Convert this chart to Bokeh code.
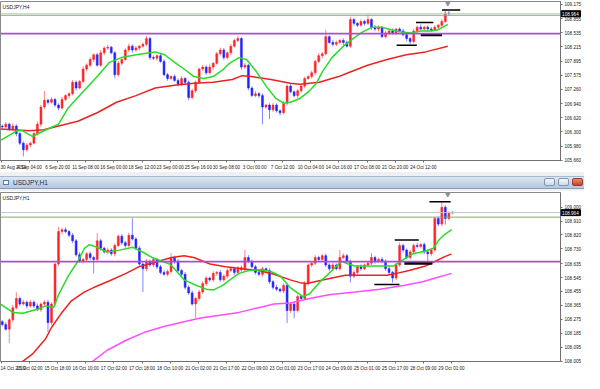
from bokeh.plotting import figure
from bokeh.models import FixedTicker, NumeralTickFormatter, Span, Label, Range1d, Div
from bokeh.core.properties import value
from bokeh.layouts import column
from bokeh.embed import file_html
from bokeh.resources import INLINE

# ---------------- H4 panel data ----------------
h4_title = "USDJPY,H4"
h4_x_labels = ["30 Aug 2019", "4 Sep 04:00", "6 Sep 20:00", "11 Sep 08:00", "16 Sep 00:00",
               "18 Sep 12:00", "23 Sep 00:00", "25 Sep 16:00", "30 Sep 08:00", "3 Oct 00:00",
               "7 Oct 12:00", "10 Oct 04:00", "14 Oct 16:00", "17 Oct 08:00", "21 Oct 20:00",
               "24 Oct 12:00"]
h4_price_ticks = [109.175, 108.855, 108.535, 108.215, 107.895, 107.575, 107.260, 106.940,
                  106.620, 106.300, 105.980, 105.660]
h4_first_open = 106.43
h4_close = [
    106.411, 106.475, 106.368, 106.432, 106.261, 106.046, 105.897, 106.004, 106.046, 106.261, 106.475, 106.861, 107.011, 106.968, 107.032, 106.904,
    106.839, 107.032, 107.118, 107.161, 107.418, 107.289, 107.439, 107.718, 107.804, 107.932, 108.039, 107.804, 108.082, 108.189, 108.210, 108.082,
    107.590, 107.847, 107.932, 108.147, 108.232, 108.147, 108.189, 108.232, 108.275, 108.404, 107.975, 107.960, 108.018, 107.889, 107.590, 107.504,
    107.547, 107.461, 107.375, 107.504, 107.418, 107.075, 107.225, 107.418, 107.718, 107.761, 107.632, 107.761, 107.847, 108.061, 108.147, 107.975,
    108.082, 108.232, 108.361, 108.404, 107.761, 107.804, 107.289, 107.118, 107.161, 107.118, 106.861, 106.904, 106.797, 106.904, 106.775, 106.732,
    106.947, 107.332, 107.204, 107.118, 107.225, 107.332, 107.504, 107.547, 107.632, 107.889, 108.018, 108.061, 108.447, 108.318, 108.275, 108.318,
    108.361, 108.318, 108.232, 108.832, 108.747, 108.704, 108.790, 108.747, 108.832, 108.661, 108.618, 108.661, 108.447, 108.532, 108.575, 108.532,
    108.618, 108.575, 108.490, 108.404, 108.339, 108.575, 108.661, 108.618, 108.661, 108.618, 108.597, 108.661, 108.704, 108.790, 108.980, 108.964]
h4_wick_up = [
    .04, .05, .03, .06, .04, .03, .04, .05, .03, .04, .06, .05, .21, .04, .05, .03,
    .04, .06, .03, .04, .05, .04, .03, .06, .04, .05, .03, .04, .06, .04, .05, .03,
    .04, .05, .03, .04, .06, .04, .05, .03, .04, .06, .04, .05, .03, .04, .05, .04,
    .03, .05, .04, .06, .03, .04, .05, .04, .03, .05, .04, .06, .03, .04, .05, .04,
    .03, .05, .04, .06, .04, .05, .03, .04, .06, .04, .05, .03, .04, .05, .04, .03,
    .05, .04, .06, .03, .04, .05, .04, .03, .05, .04, .06, .04, .15, .03, .05, .04,
    .03, .05, .04, .06, .04, .03, .05, .04, .11, .03, .05, .04, .03, .05, .04, .06,
    .03, .04, .05, .04, .03, .05, .04, .06, .03, .04, .05, .04, .03, .05, .06, .04]
h4_wick_dn = [
    .04, .03, .05, .04, .06, .04, .15, .04, .05, .03, .04, .06, .04, .05, .03, .04,
    .05, .04, .03, .06, .04, .05, .03, .04, .05, .04, .06, .03, .04, .05, .04, .03,
    .08, .04, .05, .03, .04, .06, .04, .05, .03, .04, .05, .04, .06, .03, .04, .05,
    .04, .03, .05, .04, .06, .06, .04, .05, .03, .04, .05, .04, .06, .03, .04, .05,
    .04, .05, .03, .04, .06, .04, .05, .03, .04, .05, .39, .04, .21, .05, .04, .06,
    .04, .05, .03, .04, .06, .04, .05, .03, .04, .05, .04, .06, .04, .03, .05, .04,
    .04, .06, .03, .04, .05, .04, .03, .05, .04, .06, .04, .05, .03, .04, .05, .04,
    .05, .03, .04, .06, .06, .04, .05, .03, .04, .05, .04, .03, .05, .04, .03, .04]
h4_ma_fast_bar = [0, 9.3, 12.6, 18.1, 24.7, 33, 38.5, 45, 55, 62, 68.7, 77, 88, 93.4, 99, 104.4, 110,
                  115.4, 121, 126.4, 130.2, 135.7, 140, 145.6, 151.1, 156.6, 161, 164.8, 170.3, 175.8,
                  179.7, 183, 188.5, 195, 200.5, 206, 211.5, 217, 222.5, 228, 233.5, 239, 244.5, 248.4,
                  251.6, 254.4]
h4_ma_fast = [106.111, 106.325, 106.325, 106.197, 106.325, 106.475, 106.839, 107.118, 107.547, 107.868,
              107.975, 108.039, 108.104, 108.039, 107.868, 107.718, 107.547, 107.504, 107.547, 107.697,
              107.847, 107.975, 107.932, 107.654, 107.332, 107.054, 106.947, 106.968, 107.054, 107.225,
              107.397, 107.654, 107.975, 108.232, 108.404, 108.554, 108.661, 108.661, 108.597, 108.554,
              108.532, 108.575, 108.575, 108.597, 108.661, 108.725]
h4_ma_slow_bar = [0, 16.5, 24.7, 33, 44, 55, 66, 77, 88, 99, 110, 121, 131.9, 137.4, 142.9, 153.8, 164.8,
                  170.3, 181.3, 192.3, 197.8, 208.8, 219.8, 230.8, 241.8, 254.4]
h4_ma_slow = [106.368, 106.325, 106.347, 106.432, 106.539, 106.732, 106.968, 107.118, 107.289, 107.354,
              107.397, 107.418, 107.482, 107.568, 107.547, 107.482, 107.397, 107.375, 107.418, 107.547,
              107.632, 107.804, 107.932, 108.039, 108.104, 108.232]
h4_last = 108.964
h4_green_level = 108.93
h4_purple_level = 108.515
h4_mark_x0 = [225.3, 236.3, 239.0, 251.1]
h4_mark_x1 = [236.8, 246.2, 251.1, 261.5]
h4_mark_y = [108.254, 108.768, 108.490, 109.047]
h4_mark_w = [1.5, 1.5, 3.0, 1.5]
h4_arrow = (254.4, 109.19)

# ---------------- H1 panel data ----------------
h1_title = "USDJPY,H1"
h1_x_labels = ["14 Oct 2019", "15 Oct 02:00", "15 Oct 18:00", "16 Oct 10:00", "17 Oct 02:00",
               "17 Oct 18:00", "18 Oct 10:00", "21 Oct 02:00", "21 Oct 17:00", "22 Oct 09:00",
               "23 Oct 01:00", "23 Oct 17:00", "24 Oct 09:00", "25 Oct 01:00", "25 Oct 17:00",
               "28 Oct 09:00", "29 Oct 01:00"]
h1_price_ticks = [109.000, 108.910, 108.820, 108.730, 108.635, 108.545, 108.455, 108.365,
                  108.275, 108.185, 108.095, 108.005]
h1_first_open = 108.26
h1_close = [
    108.242, 108.212, 108.272, 108.350, 108.410, 108.374, 108.386, 108.362, 108.386, 108.362, 108.338, 108.374, 108.386, 108.254, 108.374, 108.632,
    108.842, 108.854, 108.842, 108.818, 108.782, 108.692, 108.650, 108.662, 108.698, 108.674, 108.662, 108.782, 108.734, 108.710, 108.722, 108.698,
    108.752, 108.812, 108.770, 108.752, 108.818, 108.794, 108.734, 108.632, 108.602, 108.650, 108.626, 108.662, 108.614, 108.578, 108.566, 108.584,
    108.674, 108.650, 108.590, 108.566, 108.482, 108.446, 108.374, 108.410, 108.452, 108.506, 108.542, 108.530, 108.572, 108.578, 108.530, 108.554,
    108.590, 108.602, 108.578, 108.608, 108.596, 108.674, 108.650, 108.614, 108.578, 108.566, 108.602, 108.590, 108.518, 108.482, 108.470, 108.458,
    108.494, 108.332, 108.374, 108.332, 108.422, 108.410, 108.506, 108.626, 108.638, 108.674, 108.662, 108.686, 108.626, 108.602, 108.626, 108.602,
    108.674, 108.686, 108.650, 108.554, 108.578, 108.614, 108.602, 108.626, 108.638, 108.674, 108.650, 108.662, 108.650, 108.602, 108.578, 108.542,
    108.626, 108.752, 108.722, 108.674, 108.710, 108.752, 108.746, 108.758, 108.710, 108.698, 108.722, 108.926, 108.890, 108.998, 108.926, 108.962,
    108.964]
h1_wick_up = [
    .012, .015, .010, .018, .040, .012, .015, .010, .014, .012, .016, .010, .013, .015, .012, .010,
    .030, .012, .015, .010, .014, .012, .016, .010, .013, .015, .012, .050, .014, .010, .016, .012,
    .015, .010, .013, .012, .016, .110, .012, .015, .010, .014, .012, .016, .010, .013, .015, .012,
    .030, .012, .015, .010, .014, .012, .016, .010, .013, .015, .012, .010, .014, .012, .016, .010,
    .013, .015, .012, .010, .014, .050, .016, .010, .013, .015, .012, .010, .014, .012, .016, .010,
    .013, .015, .012, .010, .014, .012, .016, .010, .013, .015, .012, .010, .014, .012, .016, .010,
    .050, .015, .012, .010, .014, .012, .016, .010, .013, .030, .012, .010, .014, .012, .016, .010,
    .013, .020, .012, .010, .014, .012, .016, .010, .013, .015, .012, .010, .014, .040, .016, .010,
    .012]
h1_wick_dn = [
    .012, .010, .090, .015, .012, .014, .010, .016, .012, .013, .010, .015, .012, .060, .014, .010,
    .012, .016, .010, .013, .015, .012, .010, .014, .012, .016, .090, .012, .015, .010, .014, .012,
    .016, .010, .013, .015, .012, .010, .014, .012, .150, .016, .010, .013, .015, .012, .010, .014,
    .012, .016, .010, .013, .015, .012, .010, .090, .014, .012, .016, .010, .013, .015, .012, .010,
    .014, .012, .016, .010, .013, .015, .012, .010, .014, .012, .016, .010, .013, .015, .012, .010,
    .014, .080, .016, .050, .013, .015, .012, .010, .014, .012, .016, .010, .013, .015, .012, .010,
    .014, .012, .016, .040, .013, .015, .012, .010, .014, .012, .016, .010, .013, .015, .012, .030,
    .014, .012, .016, .010, .013, .015, .012, .010, .014, .050, .016, .010, .013, .015, .040, .012,
    .010]
h1_ma_fast_bar = [0, 7.1, 12.6, 22, 25.8, 30.2, 33, 38.5, 44, 47.8, 50.5, 55, 60.4, 67.6, 75.3, 80.8,
                  86.3, 91.8, 96.2, 98.9, 104.4, 111.5, 117, 120.9, 126.4, 131.9, 135.7, 141.2, 148.4,
                  153.8, 159.3, 164.8, 172, 175.8, 181.3, 188.5, 194, 197.8, 201.6, 210.4, 223.6, 227,
                  230.8, 234.6, 241.8, 246.2, 248.9, 252.7, 256.6]
h1_ma_fast = [108.374, 108.320, 108.314, 108.344, 108.362, 108.350, 108.434, 108.554, 108.650, 108.734,
              108.758, 108.740, 108.710, 108.722, 108.740, 108.710, 108.674, 108.650, 108.632, 108.602,
              108.530, 108.494, 108.470, 108.464, 108.494, 108.542, 108.572, 108.590, 108.596, 108.584,
              108.554, 108.480, 108.422, 108.440, 108.512, 108.590, 108.650, 108.632, 108.620, 108.620,
              108.620, 108.644, 108.674, 108.698, 108.716, 108.734, 108.782, 108.824, 108.854]
h1_ma_slow_bar = [11, 18.1, 25.8, 29.1, 34.6, 40.1, 47.8, 53.3, 62.1, 71.4, 78.6, 87.9, 97.3, 104.4,
                  109.9, 119.2, 128, 137.4, 146.7, 155.5, 164.8, 170.3, 174.2, 181.3, 188.5, 196.2,
                  207.1, 219.8, 225.3, 232.4, 241.8, 247.3, 252.7, 256.6]
h1_ma_slow = [107.990, 108.050, 108.152, 108.224, 108.314, 108.392, 108.452, 108.482, 108.524, 108.572,
              108.614, 108.644, 108.674, 108.686, 108.674, 108.632, 108.614, 108.602, 108.590, 108.566,
              108.530, 108.512, 108.506, 108.524, 108.542, 108.560, 108.560, 108.560, 108.572, 108.590,
              108.620, 108.650, 108.680, 108.698]
h1_ma_long_bar = [48.4, 52.2, 60.4, 71.4, 82.4, 93.4, 104.4, 113.7, 124.7, 135.7, 146.7, 155.5, 164.8,
                  175.8, 186.8, 201.6, 215.9, 229.1, 240.1, 247.3, 256.6]
h1_ma_long = [107.972, 108.002, 108.074, 108.140, 108.194, 108.230, 108.260, 108.284, 108.302, 108.320,
              108.350, 108.374, 108.380, 108.410, 108.434, 108.452, 108.470, 108.494, 108.518, 108.542,
              108.572]
h1_last = 108.964
h1_green_level = 108.935
h1_purple_level = 108.648
h1_mark_x0 = [212.6, 224.2, 229.7, 244.0]
h1_mark_x1 = [226.9, 237.9, 245.6, 256.0]
h1_mark_y = [108.500, 108.788, 108.638, 109.034]
h1_mark_w = [1.5, 1.5, 3.0, 1.5]
h1_arrow = (254.4, 109.080)

# ---------------- styling ----------------
W = 584
FONT = "Liberation Sans"
FS = "4.6px"
UP_COLOR = "#ff1f1f"
DN_COLOR = "#1f1fff"
X_RANGE = (0, 318.5)


def panel(title, x_labels, ticks, y_range, first_open, closes, wu, wd, mas, last,
          green_level, purple_level, mx0, mx1, my, mw, arrow, height):
    n = len(closes)
    xs = [2 * k + 1 for k in range(n)]
    opens = [first_open] + closes[:-1]
    highs = [max(o, c) + u for o, c, u in zip(opens, closes, wu)]
    lows = [min(o, c) - d for o, c, d in zip(opens, closes, wd)]
    cols = [UP_COLOR if c >= o else DN_COLOR for o, c in zip(opens, closes)]

    p = figure(width=W, height=height, x_range=Range1d(*X_RANGE), y_range=Range1d(*y_range),
               y_axis_location="right", output_backend="svg", toolbar_location=None, tools="",
               min_border_left=0, min_border_right=0, min_border_top=1, min_border_bottom=0)
    p.grid.visible = False
    p.outline_line_color = "#8a8a8a"
    p.background_fill_color = "white"
    p.border_fill_color = "white"

    # horizontal levels
    p.add_layout(Span(location=green_level, dimension="width", line_color="#78b060", line_width=1))
    p.add_layout(Span(location=last, dimension="width", line_color="#c4c4d0", line_width=1))
    p.add_layout(Span(location=purple_level, dimension="width", line_color="#a64fd8", line_width=1.6))

    # candles
    p.segment(xs, highs, xs, lows, color=cols, line_width=1, alpha=0.55)
    tops = [max(o, c) for o, c in zip(opens, closes)]
    bots = [min(o, c) for o, c in zip(opens, closes)]
    p.vbar(x=xs, top=tops, bottom=bots, width=1.1, fill_color=cols, line_color=cols,
           line_width=0.5, fill_alpha=0.95)

    # moving averages
    for bx, vals, color in mas:
        p.line(bx, vals, line_color=color, line_width=1.5)

    # black bracket marks
    for a, b, y, w in zip(mx0, mx1, my, mw):
        p.segment([a], [y], [b], [y], line_color="black", line_width=w)

    p.scatter([arrow[0]], [arrow[1]], marker="inverted_triangle", size=4, color="#8890a0")

    # title inside chart
    p.add_layout(Label(x=1.2, y=y_range[1], text=title, text_font=FONT, text_font_size="5px",
                       text_color="#202020", text_baseline="top", y_offset=-2))

    # current price box on the price scale (drawn at overlay level, outside the frame)
    xr = X_RANGE[1]
    p.rect(x=[xr + 5.9], y=[last], width=11.0, height=6, height_units="screen",
           fill_color="black", line_color="black", level="overlay")
    p.text(x=[xr + 0.9], y=[last], text=[f"{last:.3f}"], text_font=value(FONT),
           text_font_size=value(FS), text_color="white", text_baseline="middle",
           level="overlay")

    # axes
    xa = p.xaxis[0]
    tick_pos = [16 * i + 0.5 for i in range(len(x_labels))]
    xa.ticker = FixedTicker(ticks=tick_pos)
    xa.major_label_overrides = {t: lab for t, lab in zip(tick_pos, x_labels)}
    xa.major_label_text_align = "left"
    ya = p.yaxis[0]
    ya.ticker = FixedTicker(ticks=ticks)
    ya.formatter = NumeralTickFormatter(format="0.000")
    for ax in (xa, ya):
        ax.major_label_text_font = FONT
        ax.major_label_text_font_size = FS
        ax.major_label_text_color = "#202020"
        ax.major_tick_out = 2
        ax.major_tick_in = 0
        ax.minor_tick_line_color = None
        ax.axis_line_color = "#707070"
        ax.major_tick_line_color = "#707070"
        ax.major_label_standoff = 2
    return p


top = panel(h4_title, h4_x_labels, h4_price_ticks, (105.655, 109.24), h4_first_open, h4_close,
            h4_wick_up, h4_wick_dn,
            [(h4_ma_slow_bar, h4_ma_slow, "#ea2320"), (h4_ma_fast_bar, h4_ma_fast, "#27dc27")],
            h4_last, h4_green_level, h4_purple_level, h4_mark_x0, h4_mark_x1, h4_mark_y, h4_mark_w,
            h4_arrow, 172)

bottom = panel(h1_title, h1_x_labels, h1_price_ticks, (108.003, 109.094), h1_first_open, h1_close,
               h1_wick_up, h1_wick_dn,
               [(h1_ma_long_bar, h1_ma_long, "#ff4dff"), (h1_ma_slow_bar, h1_ma_slow, "#ea2320"),
                (h1_ma_fast_bar, h1_ma_fast, "#27dc27")],
               h1_last, h1_green_level, h1_purple_level, h1_mark_x0, h1_mark_x1, h1_mark_y, h1_mark_w,
               h1_arrow, 182)

btn = ("position:absolute;top:6px;width:11px;height:8px;border:1px solid #8394ac;border-radius:2px;"
       "background:linear-gradient(#f2f6fb,#cfdbea);")
bar_html = (
    f'<div style="position:relative;width:{W}px;height:19px;background:#eef0f3;overflow:hidden;'
    'font-family:\'Liberation Sans\',sans-serif;">'
    f'<div style="position:absolute;left:0;top:4px;width:{W}px;height:13px;'
    'background:linear-gradient(#dce7f4,#b3c7e0);border-top:1px solid #a9b9cd;'
    'border-bottom:1px solid #8b9bb3;"></div>'
    '<div style="position:absolute;left:3px;top:8px;width:6px;height:5px;border:1px solid #5b7ca6;'
    'background:#f6f9fd;"></div>'
    '<div style="position:absolute;left:13px;top:7px;font-size:6.5px;line-height:7px;color:#1c2c44;">'
    'USDJPY,H1</div>'
    f'<div style="{btn}left:544px;"></div>'
    f'<div style="{btn}left:558px;"></div>'
    f'<div style="{btn}left:572px;width:11px;border-color:#9a3a2a;'
    'background:linear-gradient(#f08a70,#c8432a);"></div>'
    '</div>')
bar = Div(text=bar_html, width=W, height=19, margin=0)

layout = column(top, bar, bottom, spacing=0)
open("out.html", "w").write(file_html(layout, INLINE))
